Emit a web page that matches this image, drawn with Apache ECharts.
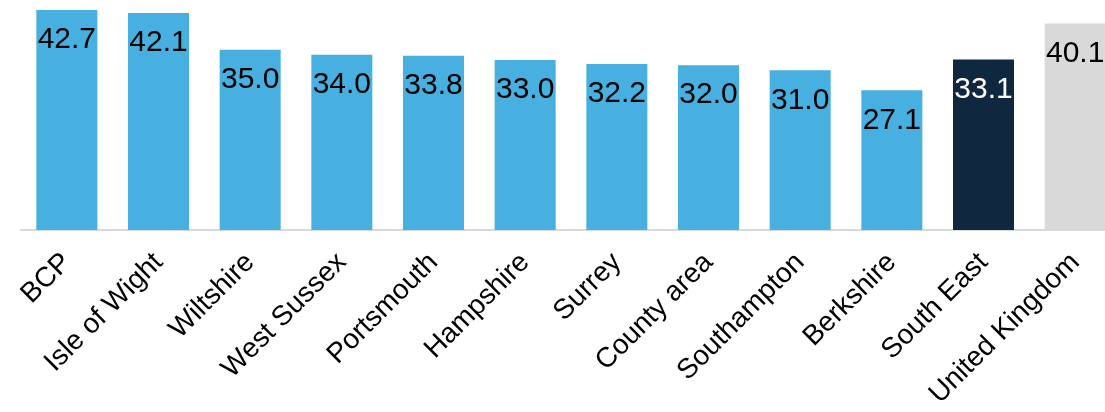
<!DOCTYPE html>
<html>
<head>
<meta charset="utf-8">
<script src="https://cdn.jsdelivr.net/npm/echarts@6/dist/echarts.min.js"></script>
<style>
  html, body { margin: 0; padding: 0; background: #fff; overflow: hidden; }
  #wrap { width: 1105px; height: 412px; overflow: hidden; }
  /* chart runs slightly past the right edge, like the source image */
  #chart { width: 1121px; height: 412px; }
</style>
</head>
<body>
<div id="wrap"><div id="chart"></div></div>
<script>
// Chart data
const categories = ['BCP', 'Isle of Wight', 'Wiltshire', 'West Sussex', 'Portsmouth', 'Hampshire',
  'Surrey', 'County area', 'Southampton', 'Berkshire', 'South East', 'United Kingdom']
const values = [42.7, 42.1, 35.0, 34.0, 33.8, 33.0, 32.2, 32.0, 31.0, 27.1, 33.1, 40.1]

// Bar colours by category (default is light blue)
const barColor = '#47b0e0'
const specialColors = { 'South East': '#10283f', 'United Kingdom': '#d9d9d9' }
const labelColors = { 'South East': '#ffffff' }

const chart = echarts.init(document.getElementById('chart'))

const seriesData = values.map((v, i) => ({
  value: v,
  itemStyle: { color: specialColors[categories[i]] || barColor },
  label: { color: labelColors[categories[i]] || '#000000' },
}))

const option = {
  animation: false,
  textStyle: { fontFamily: 'Liberation Sans, Arial, sans-serif' },
  grid: {
    left: 21,
    right: 0,
    top: 10,
    bottom: 182,
    containLabel: false,
  },
  xAxis: {
    type: 'category',
    data: categories,
    axisLine: {
      lineStyle: { color: '#d9d9d9', width: 2 },
    },
    axisTick: { show: false },
    axisLabel: {
      interval: 0,
      rotate: 45,
      margin: 28,
      color: '#000000',
      fontSize: 28,
      fontFamily: 'Liberation Sans, Arial, sans-serif',
    },
  },
  yAxis: {
    type: 'value',
    min: 0,
    max: 'dataMax',
    show: false,
    splitLine: { show: false },
  },
  series: [{
    type: 'bar',
    data: seriesData,
    barWidth: 61,
    label: {
      show: true,
      position: 'insideTop',
      distance: 15,
      fontSize: 30,
      fontFamily: 'Liberation Sans, Arial, sans-serif',
      formatter: p => p.value.toFixed(1),
    },
  }],
}
chart.setOption(option)
</script>
</body>
</html>
